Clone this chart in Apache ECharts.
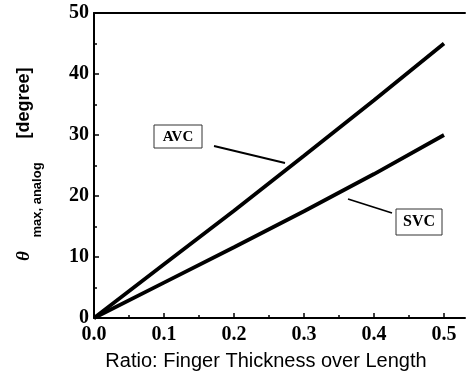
<!DOCTYPE html>
<html>
<head>
<meta charset="utf-8">
<script src="https://cdn.jsdelivr.net/npm/echarts@6/dist/echarts.min.js"></script>
<style>html,body{margin:0;padding:0;background:#fff}#c{width:471px;height:381px}</style>
</head>
<body>
<div id="c"></div>
<script>
var ratio = [0, 0.1, 0.2, 0.3, 0.4, 0.5];
var avc = [0, 8.8, 17.6, 26.6, 35.7, 45];
var svc = [0, 5.8, 11.6, 17.5, 23.6, 30];
var xMajorTicks = [0, 0.1, 0.2, 0.3, 0.4, 0.5];
var xMinorTicks = [0.05, 0.15, 0.25, 0.35, 0.45];
var yTicks = [0, 10, 20, 30, 40, 50];
var seriesNames = ['AVC', 'SVC'];
var xTitle = 'Ratio: Finger Thickness over Length';

var chart = echarts.init(document.getElementById('c'), null, {renderer: 'canvas'});
var tickFont = {fontFamily: 'Liberation Serif', fontWeight: 'bold', fontSize: 20, color: '#000'};
function pairs(xs, ys) { return xs.map(function (x, i) { return [x, ys[i]]; }); }

var option = {
  animation: false,
  backgroundColor: '#fff',
  grid: {left: 94, right: 6, top: 13, bottom: 63},
  xAxis: [
    {
      type: 'value', min: 0, max: 0.53, position: 'bottom',
      axisLine: {show: true, lineStyle: {color: '#000', width: 2}},
      axisTick: {show: true, inside: true, length: 5, lineStyle: {color: '#000', width: 1.5}, customValues: xMajorTicks},
      axisLabel: Object.assign({margin: 7, customValues: xMajorTicks, formatter: function (v) { return v.toFixed(1); }}, tickFont),
      splitLine: {show: false}
    },
    {
      type: 'value', min: 0, max: 0.53, position: 'bottom',
      axisLine: {show: false},
      axisTick: {show: true, inside: true, length: 3, lineStyle: {color: '#000', width: 1.5}, customValues: xMinorTicks},
      axisLabel: {show: false},
      splitLine: {show: false}
    },
    {
      type: 'value', min: 0, max: 0.53, position: 'top',
      axisLine: {show: true, lineStyle: {color: '#000', width: 2}},
      axisTick: {show: false}, axisLabel: {show: false}, splitLine: {show: false}
    }
  ],
  yAxis: {
    type: 'value', min: 0, max: 50, interval: 10,
    axisLine: {show: true, lineStyle: {color: '#000', width: 2}},
    axisTick: {show: true, inside: true, length: 5, lineStyle: {color: '#000', width: 1.5}},
    minorTick: {show: true, splitNumber: 2, length: 3, lineStyle: {color: '#000', width: 1.5}},
    axisLabel: Object.assign({margin: 5}, tickFont),
    splitLine: {show: false}
  },
  series: [
    {name: seriesNames[0], type: 'line', xAxisIndex: 0, data: pairs(ratio, avc), showSymbol: false, symbol: 'none',
     lineStyle: {color: '#000', width: 3.8}},
    {name: seriesNames[1], type: 'line', xAxisIndex: 0, data: pairs(ratio, svc), showSymbol: false, symbol: 'none',
     lineStyle: {color: '#000', width: 3.8}}
  ],
  graphic: [
    {type: 'text', x: 24, y: 103, rotation: Math.PI / 2,
     style: {text: '[degree]', fontFamily: 'Liberation Sans', fontWeight: 'bold', fontSize: 18, fill: '#000', align: 'center', verticalAlign: 'middle'}},
    {type: 'text', x: 37, y: 200, rotation: Math.PI / 2,
     style: {text: 'max, analog', fontFamily: 'Liberation Sans', fontWeight: 'bold', fontSize: 13, fill: '#000', align: 'center', verticalAlign: 'middle'}},
    {type: 'text', x: 24, y: 256, rotation: Math.PI / 2,
     style: {text: 'θ', fontFamily: 'Liberation Serif', fontWeight: 'bold', fontStyle: 'italic', fontSize: 19, fill: '#000', align: 'center', verticalAlign: 'middle'}},
    {type: 'text', x: 266, y: 361,
     style: {text: xTitle, fontFamily: 'Liberation Sans', fontSize: 20, fill: '#000', align: 'center', verticalAlign: 'middle'}},
    {type: 'rect', shape: {x: 154, y: 125, width: 48, height: 23}, style: {fill: '#fff', stroke: '#333', lineWidth: 1}},
    {type: 'text', x: 178, y: 137, style: {text: seriesNames[0], fontFamily: 'Liberation Serif', fontWeight: 'bold', fontSize: 15, fill: '#000', align: 'center', verticalAlign: 'middle'}},
    {type: 'line', shape: {x1: 214, y1: 146, x2: 285, y2: 163}, style: {stroke: '#000', lineWidth: 1.8}},
    {type: 'rect', shape: {x: 396, y: 209, width: 46, height: 26}, style: {fill: '#fff', stroke: '#333', lineWidth: 1}},
    {type: 'text', x: 419, y: 222, style: {text: seriesNames[1], fontFamily: 'Liberation Serif', fontWeight: 'bold', fontSize: 16, fill: '#000', align: 'center', verticalAlign: 'middle'}},
    {type: 'line', shape: {x1: 392, y1: 213, x2: 348, y2: 199}, style: {stroke: '#000', lineWidth: 1.8}}
  ]
};
chart.setOption(option);
</script>
</body>
</html>
